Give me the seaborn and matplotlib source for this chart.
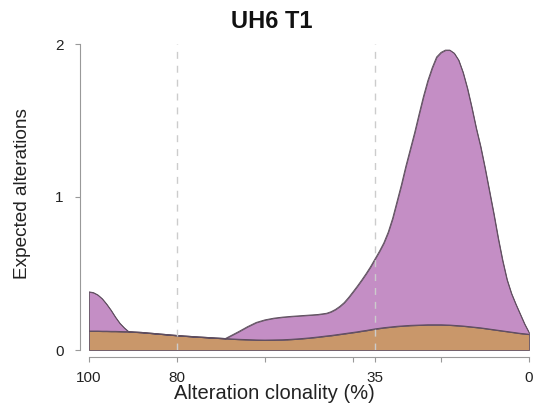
import numpy as np
import pandas as pd
import seaborn as sns
import matplotlib
matplotlib.use("Agg")
import matplotlib.pyplot as plt
from matplotlib.ticker import FixedLocator

# values (x axis runs 100 -> 0)
clonality = [100, 99, 98, 97, 96, 95, 94, 93, 92, 91, 88, 84, 80, 76, 72, 69,
             68, 66, 64, 62, 60, 58, 56, 54, 52, 50, 48, 46, 45, 44, 43, 42,
             41, 40, 39, 38, 37, 36, 35, 34, 33, 32, 31, 30, 29, 28, 27, 26,
             25, 24, 23, 22, 21, 20, 19, 18, 17, 16, 15, 14, 13, 12, 11, 10,
             9, 8, 7, 6, 5, 4, 3, 2, 1, 0]
# bottom (brown) band
clonal_alt = [0.124, 0.124, 0.124, 0.123, 0.123, 0.122, 0.122, 0.121, 0.120,
              0.120, 0.115, 0.105, 0.095, 0.087, 0.080, 0.075, 0.073, 0.070,
              0.068, 0.066, 0.065, 0.066, 0.067, 0.070, 0.074, 0.079, 0.085,
              0.092, 0.095, 0.099, 0.103, 0.107, 0.111, 0.115, 0.119, 0.124,
              0.128, 0.133, 0.138, 0.142, 0.146, 0.149, 0.152, 0.155, 0.157,
              0.159, 0.161, 0.162, 0.163, 0.164, 0.165, 0.165, 0.165, 0.165,
              0.164, 0.163, 0.161, 0.159, 0.157, 0.154, 0.151, 0.148, 0.145,
              0.141, 0.137, 0.133, 0.129, 0.125, 0.121, 0.117, 0.113, 0.109,
              0.106, 0.103]
# top of the stack (brown + purple)
all_alt = [0.380, 0.375, 0.360, 0.335, 0.300, 0.260, 0.215, 0.175, 0.145,
           0.120, 0.115, 0.105, 0.095, 0.087, 0.080, 0.075, 0.090, 0.120,
           0.152, 0.180, 0.197, 0.208, 0.215, 0.220, 0.224, 0.228, 0.232,
           0.240, 0.250, 0.265, 0.285, 0.310, 0.343, 0.380, 0.418, 0.458,
           0.500, 0.545, 0.595, 0.645, 0.700, 0.770, 0.860, 0.970, 1.080,
           1.200, 1.310, 1.420, 1.540, 1.656, 1.760, 1.845, 1.915, 1.945,
           1.960, 1.960, 1.940, 1.895, 1.815, 1.710, 1.585, 1.450, 1.330,
           1.190, 1.040, 0.890, 0.730, 0.585, 0.460, 0.370, 0.300, 0.235,
           0.170, 0.115]

marked_cutoffs = [80, 35]
x_labelled = [100, 80, 35, 0]
x_minor = [60, 40, 20]

df = pd.DataFrame({"clonality": clonality,
                   "clonal": clonal_alt,
                   "top": all_alt})

sns.set_style("ticks")
plt.rcParams["font.family"] = ["Liberation Sans", "DejaVu Sans"]

W, H = 533, 408
fig = plt.figure(figsize=(W / 100, H / 100), dpi=100)
ax = fig.add_axes([89 / W, (H - 350) / H, 440 / W, 306 / H])

purple = "#c48ec5"
brown = "#c9976a"
edge = "#5e4d5e"

ax.fill_between(df["clonality"], 0, df["clonal"], color=brown,
                edgecolor=edge, linewidth=0.6, zorder=2)
ax.fill_between(df["clonality"], df["clonal"], df["top"], color=purple,
                edgecolor=edge, linewidth=0.6, zorder=2)
sns.lineplot(data=df, x="clonality", y="top", ax=ax, color=edge,
             linewidth=0.7, zorder=3)
sns.lineplot(data=df, x="clonality", y="clonal", ax=ax, color=edge,
             linewidth=0.7, zorder=3)

for c in marked_cutoffs:
    ax.axvline(c, color="#cccccc", linestyle=(0, (5, 5)), linewidth=1.0,
               zorder=4)

ax.set_xlim(100, 0)
ax.set_ylim(0, 2)
ax.set_xlabel("")
ax.set_ylabel("")

# R style axes
for side in ["top", "right"]:
    ax.spines[side].set_visible(False)
ax.spines["left"].set_position(("outward", 6.3))
ax.spines["bottom"].set_position(("outward", 5))
ax.spines["left"].set_bounds(0, 2)
ax.spines["bottom"].set_bounds(100, 0)
for side in ["left", "bottom"]:
    ax.spines[side].set_color("#999999")
    ax.spines[side].set_linewidth(0.8)

ax.yaxis.set_major_locator(FixedLocator([0, 1, 2]))
ax.set_yticklabels(["0", "1", "2"])
ax.xaxis.set_major_locator(FixedLocator(x_labelled))
ax.xaxis.set_minor_locator(FixedLocator(x_minor))
ax.set_xticklabels([str(v) for v in x_labelled])
ax.tick_params(axis="both", which="both", direction="out", length=3.8,
               width=0.8, color="#999999", labelsize=11, labelcolor="#222222",
               bottom=True, left=True, top=False, right=False)
ax.tick_params(axis="y", which="minor", left=False)
ax.tick_params(axis="y", pad=8)
ax.tick_params(axis="x", pad=6.3)

fig.text(272 / W, 1 - 22 / H, "UH6 T1", ha="center", va="center",
         fontsize=17, fontweight="bold", color="#111111")
fig.text(274 / W, 1 - 399 / H, "Alteration clonality (%)", ha="center",
         va="baseline", fontsize=14.5, color="#222222")
fig.text(23 / W, 1 - 194 / H, "Expected alterations", ha="center",
         va="center", rotation=90, fontsize=13.7, color="#222222")

fig.savefig("out.png", dpi=100)
